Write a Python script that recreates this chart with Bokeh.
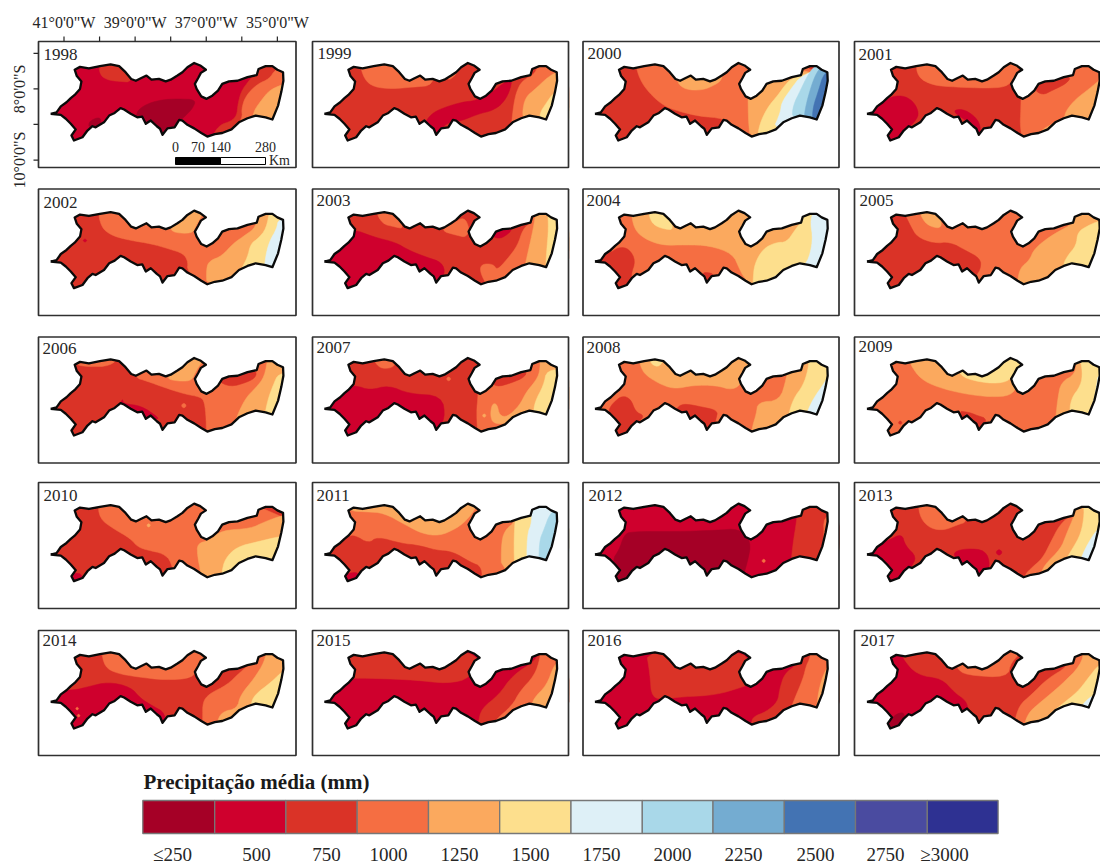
import numpy as np
from bokeh.plotting import figure
from bokeh.embed import file_html
from bokeh.resources import INLINE
from bokeh.core.properties import value

# Pernambuco outline, degrees
OUTLINE_LON = [-41.375,-41.21,-41.09,-40.93,-40.81,-40.70,-40.55,-40.51,-40.64,-40.70,-40.55,-40.30,-39.99,-39.69,-39.45,-39.27,-39.11,-38.98,-38.84,-38.68,-38.54,-38.33,-38.14,-38.0,-37.81,-37.67,-37.53,-37.34,-37.17,-37.01,-37.15,-37.23,-37.32,-37.27,-37.14,-36.99,-36.83,-36.67,-36.55,-36.36,-36.12,-35.84,-35.58,-35.53,-35.33,-35.14,-35.0,-34.84,-34.83,-34.89,-34.98,-35.14,-35.33,-35.61,-35.84,-36.08,-36.29,-36.55,-36.76,-36.97,-37.14,-37.34,-37.53,-37.67,-37.76,-37.89,-38.09,-38.23,-38.30,-38.39,-38.56,-38.70,-38.80,-38.94,-39.125,-39.31,-39.41,-39.575,-39.73,-39.875,-40.11,-40.20,-40.34,-40.48,-40.72,-40.79,-40.67,-40.81,-40.95,-41.09]
OUTLINE_LAT = [-8.70,-8.66,-8.49,-8.375,-8.26,-8.17,-8.0,-7.79,-7.64,-7.46,-7.38,-7.42,-7.36,-7.31,-7.36,-7.53,-7.72,-7.77,-7.70,-7.625,-7.74,-7.72,-7.79,-7.74,-7.625,-7.53,-7.39,-7.27,-7.34,-7.46,-7.55,-7.70,-7.86,-8.0,-8.21,-8.28,-8.19,-8.05,-7.86,-7.79,-7.77,-7.67,-7.61,-7.44,-7.36,-7.36,-7.46,-7.53,-7.77,-8.09,-8.47,-8.86,-8.80,-8.75,-8.825,-8.94,-9.14,-9.24,-9.27,-9.34,-9.24,-9.11,-9.01,-8.89,-8.87,-9.08,-9.11,-9.29,-9.12,-9.05,-8.89,-8.98,-8.78,-8.80,-8.70,-8.58,-8.54,-8.675,-8.75,-8.94,-9.08,-9.05,-9.17,-9.36,-9.45,-9.31,-9.14,-8.98,-8.84,-8.73]

CLASS_COLORS = ["#A50026","#CF002D","#DA3327","#F56E42","#FBA95E","#FDDF8D","#DEF0F7","#A9D8E9","#74ACD1","#4373B3","#4A4BA0","#2E3192"]
CLASS_LABELS = ["≤250","500","750","1000","1250","1500","1750","2000","2250","2500","2750","≥3000"]
YEARS = list(range(1998, 2018))
BASE_CLASS = {1998:1,1999:2,2000:2,2001:2,2002:2,2003:2,2004:3,2005:3,2006:2,2007:2,2008:3,2009:3,2010:2,2011:3,2012:1,2013:2,2014:2,2015:1,2016:1,2017:1}

# Precipitation zones per year: (class, polygon in lon/lat), painted in order
ZONES = {
1998:[
 (2,[(-40.02,-7.2),(-40.0,-7.6),(-39.78,-7.75),(-39.45,-7.79),(-39.08,-7.81),(-39.08,-7.2)]),
 (0,[(-38.98,-8.75),(-38.89,-8.56),(-38.61,-8.40),(-38.23,-8.30),(-37.81,-8.28),(-37.28,-8.30),(-37.39,-8.56),(-37.58,-8.75),(-37.77,-8.94),(-37.77,-9.5),(-38.98,-9.5)]),
 (0,[(-40.3,-9.1),(-40.3,-8.92),(-40.06,-8.8),(-39.95,-8.85),(-40.0,-9.1)]),
 (2,[(-36.83,-9.5),(-36.78,-9.22),(-36.59,-9.0),(-36.31,-8.91),(-36.14,-8.75),(-36.11,-8.42),(-36.01,-8.05),(-35.80,-7.77),(-35.61,-7.53),(-35.52,-7.2),(-34.53,-7.2),(-34.53,-9.5)]),
 (3,[(-36.22,-9.13),(-35.98,-8.82),(-36.01,-8.56),(-35.89,-8.19),(-35.56,-7.86),(-35.23,-7.72),(-35.05,-7.44),(-34.53,-7.2),(-34.53,-9.5)]),
 (4,[(-35.70,-8.89),(-35.66,-8.61),(-35.42,-8.28),(-35.23,-8.05),(-34.95,-7.91),(-34.53,-7.77),(-34.53,-9.5)]),
],
1999:[
 (3,[(-40.40,-7.2),(-40.26,-7.73),(-39.98,-7.95),(-39.47,-8.0),(-38.90,-7.95),(-38.29,-7.90),(-38.29,-7.2)]),
 (3,[(-37.95,-7.8),(-37.65,-7.6),(-37.5,-7.2),(-38.0,-7.2)]),
 (1,[(-38.48,-8.84),(-38.29,-8.65),(-37.97,-8.51),(-37.50,-8.37),(-37.12,-8.33),(-36.65,-8.09),(-36.37,-7.86),(-36.09,-7.70),(-36.17,-8.09),(-36.37,-8.42),(-36.65,-8.61),(-37.03,-8.70),(-37.50,-8.89),(-37.83,-8.93),(-38.06,-9.07),(-38.25,-9.5),(-38.53,-8.98)]),
 (3,[(-36.14,-9.3),(-36.07,-8.56),(-35.98,-8.09),(-35.81,-7.76),(-35.44,-7.58),(-35.34,-7.2),(-34.5,-7.2),(-34.5,-9.3)]),
 (4,[(-35.76,-8.89),(-35.81,-8.65),(-35.72,-8.23),(-35.44,-8.0),(-35.15,-7.72),(-34.87,-7.53),(-34.5,-7.43),(-34.5,-9.3)]),
 (5,[(-35.34,-8.95),(-35.30,-8.65),(-35.15,-8.42),(-34.92,-8.09),(-34.5,-8.0),(-34.5,-9.3)]),
],
2000:[
 (3,[(-40.25,-7.2),(-40.14,-7.69),(-39.86,-8.11),(-39.44,-8.48),(-39.02,-8.63),(-38.45,-8.77),(-37.75,-8.83),(-37.42,-9.09),(-37.05,-9.37),(-34.5,-9.5),(-34.5,-7.2)]),
 (4,[(-39.06,-7.5),(-39.06,-7.83),(-38.83,-8.02),(-38.36,-8.04),(-37.98,-7.88),(-37.80,-7.73),(-37.80,-7.5)]),
 (4,[(-37.07,-7.5),(-37.07,-8.8),(-37.0,-9.5),(-34.5,-9.5),(-34.5,-7.5)]),
 (5,[(-36.81,-9.42),(-36.75,-9.0),(-36.53,-8.53),(-36.22,-8.16),(-36.02,-7.88),(-35.83,-7.69),(-34.5,-7.3),(-34.5,-9.5)]),
 (6,[(-36.39,-9.19),(-36.16,-8.67),(-36.13,-8.39),(-35.88,-8.02),(-35.55,-7.59),(-34.5,-7.3),(-34.5,-9.5)]),
 (7,[(-35.83,-8.86),(-35.81,-8.48),(-35.59,-8.02),(-35.36,-7.55),(-35.13,-7.3),(-34.5,-7.3),(-34.5,-9.5)]),
 (8,[(-35.50,-8.86),(-35.45,-8.48),(-35.31,-7.97),(-35.17,-7.59),(-35.03,-7.4),(-34.5,-7.3),(-34.5,-9.5)]),
 (9,[(-35.26,-8.95),(-35.25,-8.53),(-35.08,-8.02),(-34.94,-7.55),(-34.5,-7.3),(-34.5,-9.5)]),
],
2001:[
 (3,[(-40.0,-7.2),(-39.95,-7.67),(-39.53,-7.90),(-38.88,-7.95),(-38.03,-7.98),(-37.47,-7.95),(-37.24,-7.72),(-37.0,-7.2)]),
 (1,[(-41.6,-8.61),(-41.2,-8.55),(-40.75,-8.23),(-40.38,-8.18),(-40.09,-8.33),(-39.93,-8.61),(-39.95,-8.84),(-40.33,-9.22),(-40.4,-9.6),(-41.6,-9.6)]),
 (1,[(-38.97,-8.61),(-38.69,-8.56),(-38.36,-8.75),(-38.17,-9.03),(-38.22,-9.4),(-38.36,-8.98),(-38.69,-8.84)]),
 (3,[(-37.02,-7.2),(-37.05,-8.65),(-37.07,-9.0),(-37.0,-9.5),(-34.5,-9.5),(-34.5,-7.2)]),
 (2,[(-36.7,-8.0),(-36.44,-8.18),(-36.16,-8.04),(-35.78,-7.86),(-35.62,-7.65),(-36.2,-7.6)]),
 (4,[(-36.49,-9.17),(-36.25,-9.03),(-35.83,-8.84),(-35.78,-8.61),(-35.50,-8.28),(-35.13,-8.0),(-34.80,-7.72),(-34.5,-7.5),(-34.5,-9.5),(-36.49,-9.5)]),
],
2002:[
 (3,[(-40.05,-7.2),(-39.96,-7.73),(-39.67,-7.97),(-39.13,-8.11),(-38.55,-8.20),(-38.07,-8.34),(-37.63,-8.48),(-37.51,-8.72),(-37.54,-8.95),(-37.10,-9.37),(-34.5,-9.5),(-34.5,-7.2)]),
 (4,[(-38.0,-7.88),(-37.39,-7.92),(-37.29,-7.69),(-37.0,-7.2),(-37.6,-7.2),(-38.0,-7.6)]),
 (4,[(-36.98,-9.47),(-37.0,-8.86),(-36.89,-8.67),(-36.57,-8.55),(-36.23,-8.18),(-35.89,-7.95),(-35.60,-7.73),(-35.50,-7.2),(-34.5,-7.2),(-34.5,-9.47)]),
 (5,[(-36.05,-9.1),(-35.99,-8.86),(-35.84,-8.58),(-35.75,-8.20),(-35.55,-8.06),(-35.31,-7.78),(-35.21,-7.2),(-34.5,-7.2),(-34.5,-9.1)]),
 (6,[(-35.40,-9.1),(-35.36,-8.81),(-35.31,-8.44),(-35.21,-8.11),(-35.02,-7.78),(-34.97,-7.50),(-34.5,-7.5),(-34.5,-9.1)]),
 (1,[(-40.47,-8.11),(-40.41,-8.06),(-40.35,-8.11),(-40.41,-8.16)]),
],
2003:[
 (3,[(-39.96,-7.2),(-39.76,-7.64),(-39.38,-7.73),(-39.13,-7.78),(-39.38,-7.2)]),
 (3,[(-38.12,-7.83),(-37.63,-7.97),(-37.39,-8.02),(-37.29,-7.78),(-37.44,-7.45),(-37.73,-7.59)]),
 (1,[(-41.6,-7.78),(-40.59,-7.78),(-39.96,-8.02),(-39.38,-8.16),(-38.99,-8.39),(-38.50,-8.58),(-38.07,-8.72),(-37.97,-9.05),(-38.26,-9.37),(-38.26,-9.6),(-41.6,-9.6)]),
 (1,[(-36.7,-7.9),(-36.6,-8.03),(-36.37,-8.05),(-36.05,-7.78),(-36.4,-7.7)]),
 (3,[(-35.55,-7.2),(-35.55,-7.59),(-35.79,-7.78),(-35.94,-8.25),(-36.23,-8.63),(-36.52,-8.95),(-36.62,-8.77),(-36.96,-8.77),(-37.0,-9.0),(-36.76,-9.45),(-34.5,-9.45),(-34.5,-7.2)]),
 (4,[(-35.75,-9.1),(-35.75,-8.9),(-35.65,-8.44),(-35.5,-7.78),(-35.41,-7.2),(-34.5,-7.2),(-34.5,-9.1)]),
 (5,[(-35.16,-9.0),(-35.12,-8.35),(-35.07,-7.78),(-35.1,-7.2),(-34.5,-7.2),(-34.5,-9.0)]),
],
2004:[
 (4,[(-40.37,-7.22),(-40.28,-7.78),(-39.99,-8.06),(-39.48,-8.25),(-38.82,-8.23),(-38.16,-8.25),(-37.5,-8.48),(-37.31,-8.91),(-37.22,-9.09),(-36.93,-9.47),(-34.5,-9.47),(-34.5,-7.22)]),
 (2,[(-41.6,-8.48),(-40.98,-8.48),(-40.70,-8.29),(-40.42,-8.34),(-40.23,-8.67),(-40.37,-9.09),(-40.32,-9.37),(-40.32,-9.6),(-41.6,-9.6)]),
 (2,[(-38.35,-9.05),(-38.28,-9.0),(-38.0,-9.05),(-38.1,-9.5),(-38.35,-9.5)]),
 (5,[(-39.85,-7.2),(-39.85,-7.45),(-39.71,-7.69),(-39.38,-7.8),(-39.15,-7.8),(-39.35,-7.2)]),
 (5,[(-36.93,-9.5),(-36.93,-9.23),(-36.89,-8.77),(-36.65,-8.34),(-36.28,-8.16),(-35.99,-8.16),(-35.76,-7.83),(-35.52,-7.5),(-35.5,-7.2),(-34.5,-7.2),(-34.5,-9.5)]),
 (6,[(-36.5,-9.5),(-36.46,-9.19),(-36.09,-9.0),(-35.66,-8.85),(-35.4,-8.75),(-35.24,-8.11),(-35.33,-7.5),(-35.15,-7.2),(-34.5,-7.2),(-34.5,-9.5)]),
],
2005:[
 (2,[(-40.39,-7.2),(-40.16,-7.69),(-39.97,-8.02),(-39.5,-8.2),(-39.03,-8.16),(-38.6,-8.39),(-38.18,-8.62),(-38.18,-8.91),(-38.32,-9.1),(-38.32,-9.6),(-41.6,-9.6),(-41.6,-7.2)]),
 (4,[(-39.9,-7.2),(-39.85,-7.45),(-39.66,-7.69),(-39.31,-7.78),(-39.27,-7.55),(-39.55,-7.2)]),
 (4,[(-37.14,-9.6),(-37.14,-9.19),(-37.05,-8.86),(-36.81,-8.67),(-36.67,-8.34),(-36.2,-7.97),(-35.64,-7.67),(-35.49,-7.45),(-35.49,-7.2),(-34.5,-7.2),(-34.5,-9.6)]),
 (5,[(-35.87,-9.3),(-35.87,-8.81),(-35.73,-8.53),(-35.49,-8.25),(-35.45,-7.87),(-35.16,-7.69),(-34.83,-7.55),(-34.5,-7.55),(-34.5,-9.3)]),
],
2006:[
 (3,[(-40.7,-7.2),(-40.7,-7.46),(-40.3,-7.52),(-39.7,-7.5),(-39.4,-7.2)]),
 (3,[(-39.04,-7.2),(-39.04,-7.81),(-38.65,-7.93),(-38.21,-8.09),(-37.63,-8.28),(-37.15,-8.37),(-37.05,-8.51),(-37.0,-8.98),(-37.0,-9.6),(-34.5,-9.6),(-34.5,-7.2)]),
 (4,[(-38.1,-7.87),(-37.7,-7.93),(-37.4,-7.9),(-37.3,-7.65),(-37.0,-7.2),(-37.6,-7.2),(-38.0,-7.7)]),
 (2,[(-36.7,-7.9),(-36.33,-8.09),(-35.84,-7.95),(-35.6,-7.81),(-35.6,-7.6),(-36.4,-7.6)]),
 (4,[(-36.2,-9.4),(-36.18,-9.0),(-35.9,-8.4),(-35.6,-8.1),(-35.36,-7.8),(-35.26,-7.2),(-34.5,-7.2),(-34.5,-9.4)]),
 (5,[(-35.38,-9.2),(-35.36,-8.89),(-35.26,-8.42),(-35.12,-8.04),(-34.97,-7.7),(-34.5,-7.7),(-34.5,-9.2)]),
 (1,[(-39.35,-8.4),(-39.33,-8.56),(-38.84,-8.61),(-38.36,-8.93),(-38.36,-9.0),(-38.75,-9.0),(-39.5,-8.7)]),
 (3,[(-37.71,-8.61),(-37.63,-8.53),(-37.55,-8.61),(-37.63,-8.69)]),
],
2007:[
 (3,[(-39.96,-7.2),(-39.96,-7.4),(-39.76,-7.58),(-39.4,-7.53),(-39.3,-7.2)]),
 (3,[(-37.95,-7.86),(-37.88,-7.79),(-37.81,-7.86),(-37.88,-7.93)]),
 (1,[(-41.6,-8.0),(-40.49,-8.04),(-40.1,-8.18),(-39.57,-8.04),(-38.99,-8.28),(-38.07,-8.33),(-37.97,-8.98),(-38.26,-9.36),(-38.26,-9.6),(-41.6,-9.6)]),
 (3,[(-37.03,-7.2),(-37.05,-8.33),(-37.1,-8.8),(-37.05,-9.6),(-34.5,-9.6),(-34.5,-7.2)]),
 (2,[(-36.7,-7.9),(-36.55,-8.09),(-36.13,-7.98),(-35.72,-7.8),(-35.7,-7.6),(-36.4,-7.6)]),
 (4,[(-36.66,-8.56),(-36.52,-8.56),(-36.45,-8.89),(-36.23,-8.93),(-35.89,-8.61),(-35.7,-8.23),(-35.46,-7.95),(-35.31,-7.67),(-35.31,-7.2),(-34.5,-7.2),(-34.5,-9.17),(-35.7,-9.0),(-36.23,-9.12),(-36.62,-9.12),(-36.71,-8.89)]),
 (5,[(-35.52,-9.2),(-35.5,-8.89),(-35.46,-8.51),(-35.21,-8.04),(-35.12,-7.6),(-34.5,-7.6),(-34.5,-9.2)]),
 (4,[(-36.94,-8.89),(-36.88,-8.83),(-36.82,-8.89),(-36.88,-8.95)]),
],
2008:[
 (4,[(-40.14,-7.2),(-40.1,-7.5),(-39.95,-7.76),(-39.48,-8.04),(-39.1,-8.14),(-38.63,-8.04),(-37.97,-8.04),(-37.5,-8.18),(-37.22,-7.95),(-36.9,-7.2)]),
 (5,[(-39.85,-7.2),(-39.8,-7.45),(-39.55,-7.53),(-39.4,-7.2)]),
 (2,[(-40.98,-8.9),(-40.98,-8.7),(-40.84,-8.51),(-40.61,-8.33),(-40.37,-8.42),(-40.23,-8.79),(-39.99,-8.89),(-40.14,-9.07),(-40.32,-9.07),(-40.35,-9.6),(-40.9,-9.6)]),
 (2,[(-39.1,-8.75),(-39.01,-8.61),(-38.82,-8.56),(-38.35,-8.65),(-37.92,-8.75),(-37.97,-8.98),(-38.1,-9.5),(-38.4,-9.5),(-38.72,-8.95)]),
 (4,[(-37.0,-9.6),(-36.95,-9.2),(-36.84,-8.85),(-36.79,-8.51),(-36.18,-8.47),(-35.99,-7.86),(-35.9,-7.2),(-34.5,-7.2),(-34.5,-9.6)]),
 (5,[(-36.0,-9.3),(-35.95,-8.93),(-35.8,-8.42),(-35.52,-8.04),(-35.38,-7.6),(-35.35,-7.2),(-34.5,-7.2),(-34.5,-9.3)]),
 (6,[(-35.5,-9.1),(-35.43,-8.84),(-35.24,-8.42),(-34.91,-7.95),(-34.8,-7.75),(-34.5,-7.75),(-34.5,-9.1)]),
],
2009:[
 (4,[(-40.2,-7.2),(-40.16,-7.45),(-39.87,-7.86),(-39.4,-8.09),(-38.65,-8.28),(-37.9,-8.37),(-37.33,-8.33),(-37.14,-8.04),(-36.9,-7.2)]),
 (5,[(-38.78,-7.5),(-38.74,-7.81),(-37.99,-7.99),(-37.42,-7.95),(-37.24,-7.7),(-36.9,-7.2),(-37.6,-7.2),(-38.1,-7.5)]),
 (2,[(-38.85,-8.75),(-38.5,-8.8),(-38.27,-8.89),(-37.99,-8.98),(-38.1,-9.5),(-38.35,-9.5)]),
 (2,[(-40.5,-9.09),(-40.44,-9.03),(-40.38,-9.09),(-40.44,-9.15)]),
 (4,[(-36.08,-9.2),(-36.06,-8.89),(-36.01,-8.42),(-35.92,-7.95),(-35.5,-7.72),(-35.49,-7.2),(-34.5,-7.2),(-34.5,-9.2)]),
 (5,[(-35.7,-9.2),(-35.68,-8.89),(-35.64,-8.42),(-35.36,-8.04),(-35.31,-7.67),(-35.4,-7.2),(-34.5,-7.2),(-34.5,-9.2)]),
 (6,[(-35.15,-9.1),(-34.98,-8.42),(-34.9,-7.95),(-34.88,-7.75),(-34.5,-7.75),(-34.5,-9.1)]),
],
2010:[
 (3,[(-40.05,-7.2),(-40.0,-7.69),(-39.62,-7.97),(-39.13,-8.25),(-38.94,-8.48),(-38.65,-8.58),(-38.21,-8.67),(-37.97,-8.91),(-37.88,-9.6),(-34.5,-9.6),(-34.5,-7.2)]),
 (4,[(-37.15,-9.6),(-37.15,-9.23),(-37.25,-8.72),(-37.25,-8.39),(-36.91,-8.3),(-36.57,-8.02),(-35.75,-7.97),(-35.36,-7.78),(-34.83,-7.59),(-34.5,-7.59),(-34.5,-9.6)]),
 (5,[(-36.57,-9.6),(-36.57,-9.23),(-36.47,-8.81),(-36.13,-8.48),(-35.55,-8.34),(-34.97,-8.2),(-34.5,-8.15),(-34.5,-9.6)]),
 (1,[(-40.9,-9.29),(-40.65,-9.22),(-40.5,-9.25),(-40.45,-9.6),(-40.9,-9.6)]),
 (4,[(-38.68,-7.88),(-38.62,-7.82),(-38.56,-7.88),(-38.62,-7.94)]),
],
2011:[
 (4,[(-40.7,-7.2),(-40.7,-7.47),(-40.2,-7.5),(-39.7,-7.53),(-39.07,-7.88),(-38.63,-8.11),(-38.15,-8.18),(-37.66,-7.97),(-37.32,-7.69),(-37.0,-7.2)]),
 (2,[(-41.6,-8.2),(-40.71,-8.2),(-40.52,-8.16),(-40.13,-8.39),(-39.89,-8.2),(-39.21,-8.39),(-38.73,-8.44),(-38.24,-8.58),(-37.76,-8.62),(-37.28,-8.91),(-36.94,-9.05),(-36.98,-9.6),(-41.6,-9.6)]),
 (1,[(-40.85,-9.3),(-40.6,-9.2),(-40.4,-9.22),(-40.4,-9.6),(-40.85,-9.6)]),
 (4,[(-36.4,-9.3),(-36.4,-8.3),(-36.26,-7.97),(-36.02,-7.8),(-36.02,-7.2),(-34.5,-7.2),(-34.5,-9.3)]),
 (5,[(-36.02,-9.3),(-36.05,-8.25),(-35.97,-7.2),(-34.5,-7.2),(-34.5,-9.3)]),
 (6,[(-35.68,-9.3),(-35.68,-8.15),(-35.53,-7.78),(-35.58,-7.2),(-34.5,-7.2),(-34.5,-9.3)]),
 (7,[(-35.34,-9.3),(-35.34,-8.34),(-35.19,-7.97),(-35.05,-7.59),(-34.86,-7.4),(-34.5,-7.4),(-34.5,-9.3)]),
],
2012:[
 (0,[(-40.75,-9.6),(-40.89,-8.85),(-40.7,-8.58),(-40.56,-8.16),(-40.37,-8.05),(-39.1,-8.06),(-37.97,-8.02),(-37.31,-7.97),(-36.98,-8.34),(-37.08,-8.9),(-37.3,-9.6)]),
 (2,[(-35.88,-9.1),(-35.8,-8.34),(-35.71,-7.8),(-35.65,-7.2),(-34.5,-7.2),(-34.5,-9.1)]),
 (3,[(-35.05,-9.0),(-34.93,-8.3),(-34.95,-7.6),(-34.5,-7.6),(-34.5,-9.0)]),
 (3,[(-36.69,-8.88),(-36.63,-8.82),(-36.57,-8.88),(-36.63,-8.94)]),
],
2013:[
 (3,[(-39.95,-7.2),(-39.87,-7.69),(-39.59,-7.97),(-39.21,-8.02),(-38.84,-7.87),(-38.56,-7.78),(-38.7,-7.55),(-39.2,-7.55),(-39.3,-7.2)]),
 (1,[(-41.6,-8.5),(-41.0,-8.4),(-40.77,-8.3),(-40.39,-8.11),(-40.3,-8.45),(-39.97,-8.77),(-40.16,-9.09),(-40.3,-9.6),(-41.6,-9.6)]),
 (1,[(-38.93,-8.62),(-38.56,-8.53),(-38.04,-8.58),(-37.9,-9.0),(-38.1,-9.5),(-38.3,-9.5),(-38.65,-8.95),(-38.9,-8.8)]),
 (1,[(-37.76,-8.64),(-37.66,-8.54),(-37.56,-8.64),(-37.66,-8.74)]),
 (3,[(-36.95,-9.6),(-36.95,-9.28),(-36.72,-9.05),(-36.44,-8.81),(-36.2,-8.34),(-35.96,-7.87),(-35.64,-7.59),(-35.5,-7.2),(-34.5,-7.2),(-34.5,-9.6)]),
 (4,[(-36.5,-9.3),(-36.39,-9.0),(-35.92,-8.53),(-35.78,-8.16),(-35.54,-7.59),(-35.4,-7.2),(-34.5,-7.2),(-34.5,-9.3)]),
 (5,[(-35.95,-9.1),(-35.6,-8.55),(-35.35,-8.1),(-35.26,-7.55),(-35.3,-7.2),(-34.5,-7.2),(-34.5,-9.1)]),
 (6,[(-35.45,-9.1),(-35.26,-8.55),(-34.83,-7.87),(-34.5,-7.87),(-34.5,-9.1)]),
],
2014:[
 (3,[(-39.96,-7.2),(-39.86,-7.72),(-39.52,-7.9),(-38.94,-8.0),(-38.17,-8.09),(-37.39,-8.04),(-37.2,-7.7),(-36.9,-7.2)]),
 (1,[(-41.6,-8.4),(-40.68,-8.37),(-40.34,-8.28),(-39.76,-8.14),(-39.13,-8.28),(-38.84,-8.61),(-38.55,-8.79),(-38.12,-9.03),(-38.2,-9.6),(-41.6,-9.6)]),
 (3,[(-37.1,-9.6),(-37.1,-9.17),(-37.1,-8.7),(-36.91,-8.47),(-36.42,-8.23),(-36.04,-7.86),(-35.75,-7.62),(-35.6,-7.2),(-34.5,-7.2),(-34.5,-9.6)]),
 (4,[(-36.75,-9.6),(-36.71,-9.31),(-36.57,-8.98),(-36.13,-8.89),(-36.04,-8.51),(-35.65,-8.04),(-35.36,-7.57),(-35.3,-7.2),(-34.5,-7.2),(-34.5,-9.6)]),
 (5,[(-35.8,-9.1),(-35.75,-8.79),(-35.65,-8.51),(-35.16,-8.14),(-34.83,-7.81),(-34.5,-7.81),(-34.5,-9.1)]),
 (7,[(-35.2,-9.0),(-35.13,-8.85),(-34.95,-8.5),(-34.9,-9.0)]),
 (3,[(-40.68,-8.89),(-40.63,-8.84),(-40.58,-8.89),(-40.63,-8.94)]),
 (3,[(-40.64,-9.09),(-40.59,-9.04),(-40.54,-9.09),(-40.59,-9.14)]),
],
2015:[
 (2,[(-41.6,-8.0),(-40.63,-8.04),(-39.96,-8.04),(-38.79,-8.09),(-37.92,-8.19),(-37.25,-8.04),(-36.9,-7.2),(-41.6,-7.2)]),
 (2,[(-37.05,-9.6),(-37.05,-9.31),(-36.96,-8.89),(-36.47,-8.51),(-36.08,-7.95),(-35.41,-7.53),(-35.35,-7.2),(-34.5,-7.2),(-34.5,-9.6)]),
 (3,[(-36.7,-9.6),(-36.62,-9.26),(-36.08,-8.79),(-35.89,-8.42),(-35.46,-7.95),(-35.31,-7.48),(-35.3,-7.2),(-34.5,-7.2),(-34.5,-9.6)]),
 (4,[(-35.6,-9.1),(-35.55,-8.89),(-35.5,-8.61),(-35.12,-8.23),(-34.92,-7.67),(-34.7,-7.5),(-34.5,-7.5),(-34.5,-9.1)]),
],
2016:[
 (2,[(-39.95,-7.2),(-39.83,-7.9),(-39.78,-8.61),(-39.34,-8.61),(-38.91,-8.56),(-37.97,-8.51),(-37.22,-8.28),(-37.0,-8.2),(-37.0,-7.2)]),
 (2,[(-36.98,-9.6),(-36.98,-9.31),(-36.93,-9.12),(-36.56,-8.98),(-36.23,-8.7),(-36.18,-8.33),(-36.04,-7.9),(-35.71,-7.67),(-35.6,-7.2),(-34.5,-7.2),(-34.5,-9.6)]),
 (3,[(-35.95,-9.3),(-35.9,-8.98),(-35.76,-8.61),(-35.52,-8.04),(-35.43,-7.67),(-35.33,-7.48),(-35.3,-7.2),(-34.5,-7.2),(-34.5,-9.3)]),
 (4,[(-35.15,-9.1),(-35.1,-8.42),(-34.91,-7.81),(-34.7,-7.6),(-34.5,-7.6),(-34.5,-9.1)]),
],
2017:[
 (2,[(-40.4,-7.2),(-40.39,-7.45),(-39.97,-7.95),(-39.26,-8.04),(-38.93,-8.42),(-38.6,-8.65),(-38.51,-8.89),(-38.4,-9.6),(-34.5,-9.6),(-34.5,-7.2)]),
 (3,[(-38.9,-7.55),(-38.84,-7.76),(-38.6,-7.95),(-37.42,-8.02),(-37.33,-7.58),(-36.9,-7.2),(-37.6,-7.2),(-38.1,-7.55)]),
 (0,[(-40.85,-9.6),(-40.77,-9.42),(-40.67,-9.12),(-40.39,-8.98),(-40.3,-9.1),(-40.3,-9.6)]),
 (3,[(-37.24,-9.6),(-37.24,-9.31),(-37.09,-8.79),(-36.76,-8.51),(-36.29,-8.04),(-35.73,-7.71),(-35.6,-7.2),(-34.5,-7.2),(-34.5,-9.6)]),
 (4,[(-36.95,-9.6),(-36.95,-9.31),(-36.81,-8.98),(-36.48,-8.7),(-35.92,-8.23),(-35.36,-7.67),(-35.26,-7.2),(-34.5,-7.2),(-34.5,-9.6)]),
 (5,[(-36.45,-9.5),(-36.39,-9.17),(-35.92,-8.79),(-35.45,-8.42),(-35.16,-8.04),(-34.83,-7.62),(-34.5,-7.62),(-34.5,-9.5)]),
 (6,[(-35.4,-9.1),(-35.36,-8.84),(-35.16,-8.61),(-34.83,-8.42),(-34.5,-8.42),(-34.5,-9.1)]),
],
}

LON_TICKS = [-41,-40,-39,-38,-37,-36,-35]
LON_LABELS = {-41:"41°0'0\"W",-39:"39°0'0\"W",-37:"37°0'0\"W",-35:"35°0'0\"W"}
LAT_TICKS = [-7,-8,-9,-10]
LAT_LABELS = {-8:"8°0'0\"S",-10:"10°0'0\"S"}
SCALE_KM = [0,70,140,280]

SERIF = value("Liberation Serif")
INK = "#262626"
PX_PER_DEG = 35.56
LON0, LAT0 = -41.36, -8.70
COL_TIP = [50.7, 324.4, 595.0, 867.0]
ROW_TIP = [113.3, 261.0, 408.3, 554.0, 701.3]
COL_FRAME = [(38.0,295.5),(312.0,568.0),(582.5,838.5),(854.0,1111.0)]
ROW_FRAME = [(41.0,167.0),(188.5,315.0),(336.5,462.5),(482.0,608.0),(630.0,755.0)]
YEAR_POS = {1998:(43,54),1999:(317,53),2000:(587,53),2001:(858,54),
            2002:(43,202),2003:(316,200),2004:(586,200),2005:(859,200),
            2006:(42,348),2007:(316,347),2008:(586,347),2009:(858,346),
            2010:(43,495),2011:(316,495),2012:(588,495),2013:(858,495),
            2014:(42,640),2015:(316,640),2016:(587,640),2017:(860,640)}

p = figure(width=1100, height=864, x_range=(0,1100), y_range=(864,0),
           output_backend="svg", toolbar_location=None, min_border=0)
p.axis.visible = False
p.grid.visible = False
p.outline_line_color = None
p.background_fill_color = "white"

def to_x(lon, c): return COL_TIP[c] + (np.asarray(lon,dtype=float) - LON0)*PX_PER_DEG
def to_y(lat, r): return ROW_TIP[r] - (np.asarray(lat,dtype=float) - LAT0)*PX_PER_DEG

def rounded(poly, passes=2):
    """Round the corners of a hand-read zone so its edge reads as a contour."""
    pts = np.asarray(poly, dtype=float)
    for _ in range(passes):
        nxt = np.roll(pts, -1, axis=0)
        pts = np.column_stack([0.75*pts+0.25*nxt, 0.25*pts+0.75*nxt]).reshape(-1, 2)
    return pts

zx, zy, zc = [], [], []
mx, my, ox, oy = [], [], [], []
fl, fr, ft, fb = [], [], [], []
for i, yr in enumerate(YEARS):
    r, c = i//4, i%4
    sx = to_x(OUTLINE_LON, c); sy = to_y(OUTLINE_LAT, r)
    zx.append(sx.tolist()); zy.append(sy.tolist()); zc.append(CLASS_COLORS[BASE_CLASS[yr]])
    for cls, poly in ZONES[yr]:
        pts = rounded(poly)
        zx.append(to_x(pts[:,0],c).tolist()); zy.append(to_y(pts[:,1],r).tolist()); zc.append(CLASS_COLORS[cls])
    l, rt = COL_FRAME[c]; t, b = ROW_FRAME[r]
    mx.append([[[l,rt,rt,l], sx.tolist()]]); my.append([[[t,t,b,b], sy.tolist()]])
    ox.append(sx.tolist()+[sx[0]]); oy.append(sy.tolist()+[sy[0]])
    fl.append(l); fr.append(rt); ft.append(t); fb.append(b)

p.patches(zx, zy, fill_color=zc, line_color=zc, line_width=0.5)
p.multi_polygons(mx, my, fill_color="white", line_color=None)
p.multi_line(ox, oy, line_color="#0a0a0a", line_width=2.3, line_join="round")
p.quad(left=fl, right=fr, top=ft, bottom=fb, fill_color=None, line_color="#303030", line_width=1.7)

p.text([YEAR_POS[y][0] for y in YEARS], [YEAR_POS[y][1] for y in YEARS], text=[str(y) for y in YEARS],
       text_font=SERIF, text_font_size="17px", text_color=INK, text_align="left", text_baseline="middle")

# Graticule ticks and labels on the first panel
tx = to_x(LON_TICKS,0); p.segment(tx,[36]*len(tx),tx,[41]*len(tx),line_color=INK,line_width=1.2)
ty = to_y(LAT_TICKS,0); p.segment([33]*len(ty),ty,[38]*len(ty),ty,line_color=INK,line_width=1.2)
p.text(to_x(list(LON_LABELS),0),[22]*len(LON_LABELS),text=list(LON_LABELS.values()),
       text_font=SERIF,text_font_size="16px",text_color=INK,text_align="center",text_baseline="middle")
p.text([19]*len(LAT_LABELS),to_y(list(LAT_LABELS),0),text=list(LAT_LABELS.values()),angle=np.pi/2,
       text_font=SERIF,text_font_size="16px",text_color=INK,text_align="center",text_baseline="middle")

# Scale bar
KM0, KM_PX = 175.0, 90.0/280.0
kx = [KM0+k*KM_PX for k in SCALE_KM]
p.quad(left=kx[:-1],right=kx[1:],top=[157]*3,bottom=[164]*3,
       fill_color=["black","black","white"],line_color="black",line_width=1)
p.text(kx,[146]*4,text=[str(k) for k in SCALE_KM],text_font=SERIF,text_font_size="14px",text_color=INK,
       text_align="center",text_baseline="middle")
p.text([268.5],[159.5],text=["Km"],text_font=SERIF,text_font_size="14px",text_color=INK,
       text_align="left",text_baseline="middle")

# Legend
EDGES = [142.3,214.2,285.4,356.7,428.0,499.2,570.5,641.8,712.5,783.8,855.0,926.8,997.6]
LABEL_X = [172,256,326,388,459,530,601,672,743,815,885,944]
p.quad(left=EDGES[:-1],right=EDGES[1:],top=[800]*12,bottom=[833]*12,
       fill_color=CLASS_COLORS,line_color="#777777",line_width=1.3)
p.text(LABEL_X,[854]*12,text=CLASS_LABELS,text_font=SERIF,text_font_size="19px",text_color=INK,
       text_align="center",text_baseline="middle")
p.text([143],[781],text=["Precipitação média (mm)"],text_font=SERIF,text_font_style="bold",
       text_font_size="21px",text_color="#1a1a1a",text_align="left",text_baseline="middle")

open("out.html","w").write(file_html(p, INLINE))
